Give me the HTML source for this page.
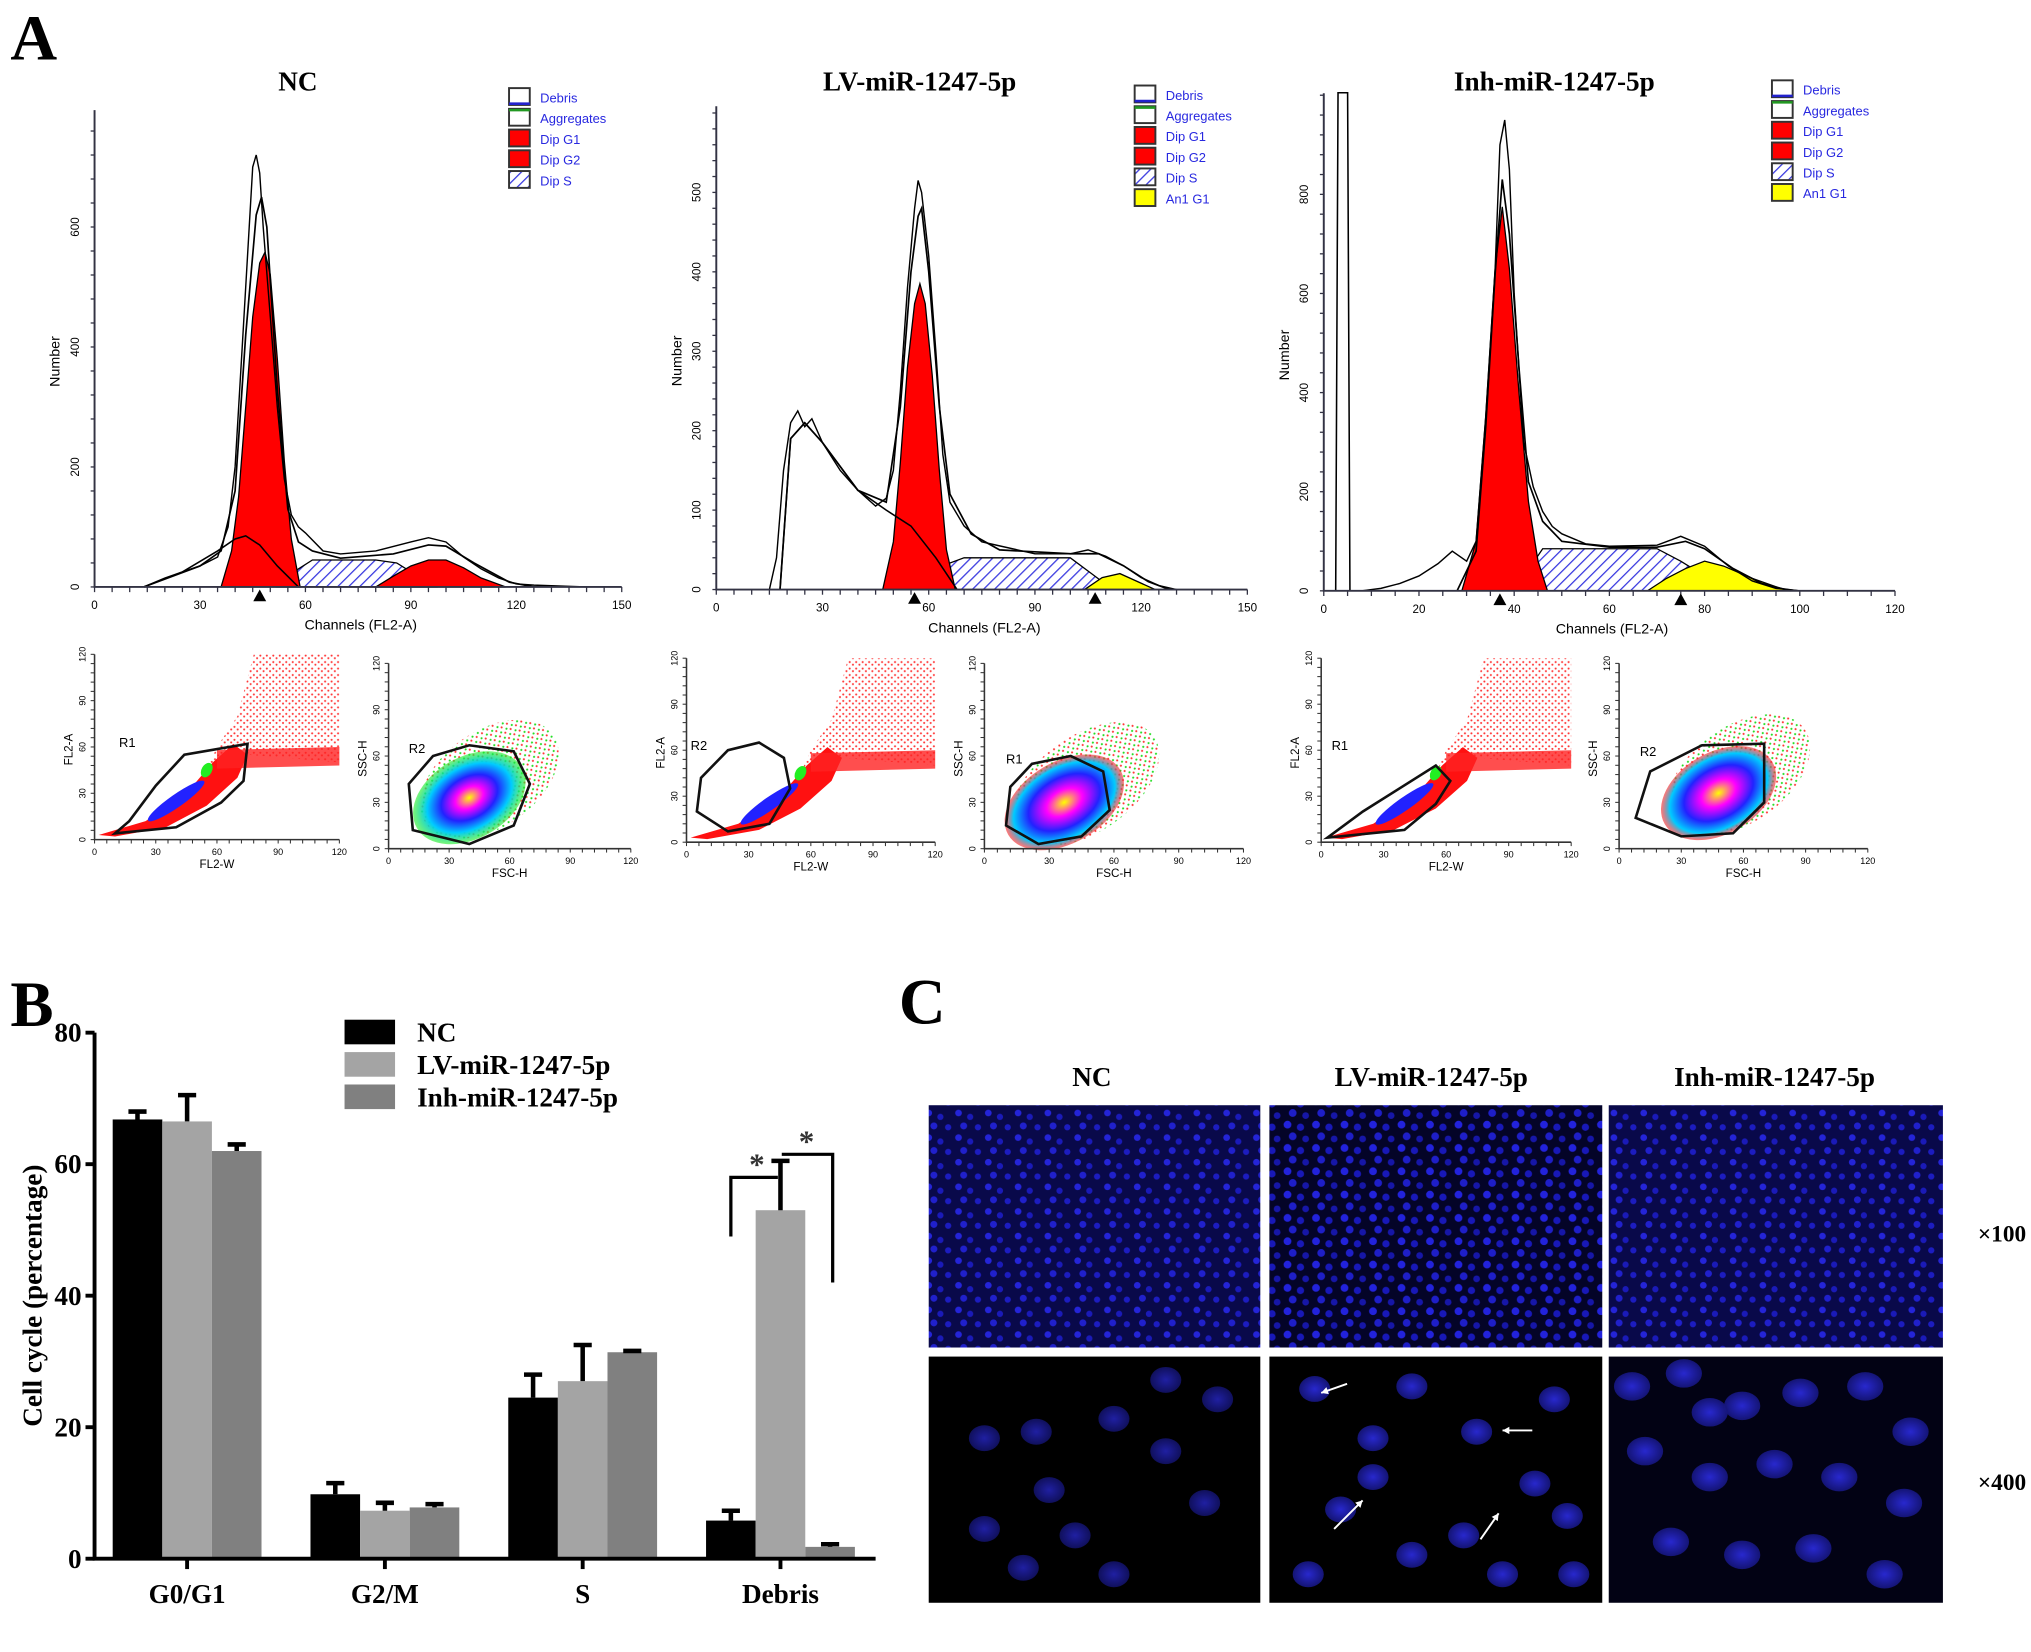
<!DOCTYPE html>
<html><head><meta charset="utf-8"><style>
html,body{margin:0;padding:0;background:#fff;}
svg{display:block;}
.serif{font-family:"Liberation Serif",serif;font-weight:bold;}
.sans{font-family:"Liberation Sans",sans-serif;}
</style></head>
<body>
<svg id="fig" xmlns="http://www.w3.org/2000/svg" width="2031" height="1652" viewBox="0 0 1568 1275" preserveAspectRatio="none">
<defs>
<pattern id="hatchBlue" width="6" height="6" patternUnits="userSpaceOnUse" patternTransform="rotate(45)"><rect width="6" height="6" fill="#fff"/><line x1="0" y1="0" x2="0" y2="6" stroke="#3a3ae0" stroke-width="2"/></pattern>
<pattern id="speckRed" width="5" height="5" patternUnits="userSpaceOnUse"><circle cx="1" cy="1" r="0.8" fill="#f22"/><circle cx="3.5" cy="3" r="0.8" fill="#f22"/></pattern>
<pattern id="speckGreen" width="5" height="5" patternUnits="userSpaceOnUse"><circle cx="1" cy="2" r="0.8" fill="#2d2"/><circle cx="3.5" cy="4" r="0.8" fill="#f33"/></pattern>
<pattern id="nucSmall" width="23" height="19" patternUnits="userSpaceOnUse"><rect width="23" height="19" fill="#09094a"/><circle cx="4" cy="4" r="2.6" fill="#2424d8"/><circle cx="13" cy="7" r="2.4" fill="#1a1ab8"/><circle cx="8" cy="14" r="2.7" fill="#2020cc"/><circle cx="19" cy="15" r="2.4" fill="#1c1cc0"/></pattern>
<pattern id="nucSmall2" width="22" height="18" patternUnits="userSpaceOnUse"><rect width="22" height="18" fill="#040428"/><circle cx="4" cy="4" r="3" fill="#2222dc"/><circle cx="14" cy="6" r="2.8" fill="#1818b8"/><circle cx="8" cy="13" r="3" fill="#1e1ec8"/><circle cx="18" cy="15" r="2.6" fill="#1616a8"/></pattern>
<radialGradient id="cloudA"><stop offset="0" stop-color="#ff0"/><stop offset="0.25" stop-color="#f0f"/><stop offset="0.5" stop-color="#22f"/><stop offset="0.75" stop-color="#0cf"/><stop offset="1" stop-color="#2e2" stop-opacity="0.6"/></radialGradient>
<radialGradient id="cloudB"><stop offset="0" stop-color="#ff0"/><stop offset="0.3" stop-color="#f0f"/><stop offset="0.6" stop-color="#22f"/><stop offset="0.85" stop-color="#0cf"/><stop offset="1" stop-color="#f22" stop-opacity="0.6"/></radialGradient>
<radialGradient id="nucG"><stop offset="0" stop-color="#2a2ad8"/><stop offset="1" stop-color="#15157a"/></radialGradient>
</defs>
<g id="root"></g>
</svg>
<script>
// ---------- Bar chart data (panel B) ----------
const barCategories = ["G0/G1", "G2/M", "S", "Debris"];
const barSeriesNames = ["NC", "LV-miR-1247-5p", "Inh-miR-1247-5p"];
const ncValues = [66.8, 9.8, 24.5, 5.8];
const lvValues = [66.5, 7.3, 27.0, 53.0];
const inhValues = [62.0, 7.8, 31.4, 1.8];
const ncErrors = [1.2, 1.7, 3.5, 1.5];
const lvErrors = [4.0, 1.2, 5.5, 7.5];
const inhErrors = [1.0, 0.5, 0.2, 0.4];
const yTicks = [0, 20, 40, 60, 80];

// ---------- Histogram data (panel A) ----------
const ncEnvCh = [14,20,25,30,35,38,40,42,44,45,46,47,48,50,52,54,56,58,60,65,70,80,90,95,100,105,110,115,120,125,140];
const ncEnvCt = [0,15,25,35,50,100,200,400,600,700,720,690,600,450,300,180,120,100,90,60,55,60,75,82,75,50,30,15,5,3,0];
const ncModCh = [14,30,36,40,43,46,47.5,49,52,55,58,62,70,85,95,100,108,118,125];
const ncModCt = [0,35,60,160,420,620,650,600,330,130,75,60,48,55,70,68,40,8,0];
const ncG1Ch = [36,39,41,43,45,47,48.5,50,52,54,56,58.5];
const ncG1Ct = [0,60,150,300,450,540,558,520,380,210,80,0];
const ncG2Ch = [80,85,90,95,100,105,110,117];
const ncG2Ct = [0,18,35,45,45,32,15,0];
const ncSCh = [52,58,62,80,86,92,97];
const ncSCt = [0,30,45,45,40,18,0];
const ncDebCh = [14,25,35,40,43,47,52,58];
const ncDebCt = [0,25,60,80,85,70,35,0];

const lvEnvCh = [15,17,19,21,23,25,27,30,35,40,45,48,50,52,54,56,57,58,60,62,64,66,70,75,80,90,100,105,110,115,120,125,130];
const lvEnvCt = [0,40,150,210,225,205,215,185,150,125,105,115,150,250,380,480,515,500,420,300,170,110,80,60,55,45,45,50,42,30,15,5,0];
const lvModCh = [18,21,25,30,40,48,52,55,57,58,60,63,66,72,80,100,108,115,122,128];
const lvModCt = [0,190,210,185,125,110,230,400,470,480,400,230,120,70,50,45,45,30,10,0];
const lvG1Ch = [47,50,52,54,56,57.5,59,61,63,65,67.5];
const lvG1Ct = [0,60,160,280,360,385,360,270,150,50,0];
const lvSCh = [58,64,70,100,106,112];
const lvSCt = [0,30,40,40,20,0];
const lvAnCh = [104,109,114,119,124];
const lvAnCt = [0,15,20,10,0];
const lvDebCh = [18,21,25,30,40,48,55,62,68];
const lvDebCt = [0,190,210,185,125,100,80,40,0];

const inhEnvCh = [8,12,16,20,24,27,30,32,34,36,37,38,39,40,42,44,46,48,50,55,60,70,75,80,85,90,95,100];
const inhEnvCt = [0,5,15,30,55,80,60,100,350,650,900,950,850,600,300,210,160,130,115,95,90,92,110,90,50,20,5,0];
const inhModCh = [28,32,34,36,37.5,39,41,43,46,50,60,70,76,80,86,92,98];
const inhModCt = [0,80,330,640,830,720,450,220,140,100,88,88,100,85,45,15,0];
const inhG1Ch = [29,32,34,36,37.5,39,41,43,45,47];
const inhG1Ct = [0,100,350,650,775,650,400,180,60,0];
const inhSCh = [40,46,70,75,80,86];
const inhSCt = [0,85,85,60,30,0];
const inhAnCh = [68,72,76,80,84,90,96,100];
const inhAnCt = [0,25,45,60,50,25,5,0];
const inhSpikeCh = [2.5,3,5,5.5];
const inhSpikeCt = [0,1005,1005,0];

const NS = "http://www.w3.org/2000/svg";
const root = document.getElementById("root");
function mk(tag, attrs, parent) {
  const el = document.createElementNS(NS, tag);
  for (const k in attrs) el.setAttribute(k, attrs[k]);
  (parent || root).appendChild(el);
  return el;
}
function txt(str, x, y, size, cls, parent, anchor, fill) {
  const t = mk("text", {x: x, y: y, "font-size": size, "class": cls, "text-anchor": anchor || "middle", fill: fill || "#000"}, parent);
  t.textContent = str;
  return t;
}

// ---------- Panel letters ----------
let el;
el = txt("A", 8, 46, 50, "serif", root, "start");


el = txt("B", 8, 792, 50, "serif", root, "start");


el = txt("C", 694, 790, 50, "serif", root, "start");



// ---------- Histograms ----------
const hists = [
  {name:"nc", title:"NC", tx:230, x0:73, x1:480, chMax:150, y0:453, yTop:85, ppu:0.463, tickStep:200, minor:40, yMaxTick:600,
   xt:[0,30,60,90,120,150], env:[ncEnvCh,ncEnvCt], mod:[ncModCh,ncModCt], g1:[ncG1Ch,ncG1Ct], g2:[ncG2Ch,ncG2Ct], s:[ncSCh,ncSCt], deb:[ncDebCh,ncDebCt], an:null, spike:null,
   markers:[47], legX:393, legY:68, leg:["Debris","Aggregates","Dip G1","Dip G2","Dip S"]},
  {name:"lv", title:"LV-miR-1247-5p", tx:710, x0:553, x1:963, chMax:150, y0:455, yTop:82, ppu:0.613, tickStep:100, minor:20, yMaxTick:500,
   xt:[0,30,60,90,120,150], env:[lvEnvCh,lvEnvCt], mod:[lvModCh,lvModCt], g1:[lvG1Ch,lvG1Ct], g2:null, s:[lvSCh,lvSCt], deb:[lvDebCh,lvDebCt], an:[lvAnCh,lvAnCt], spike:null,
   markers:[56,107], legX:876, legY:66, leg:["Debris","Aggregates","Dip G1","Dip G2","Dip S","An1 G1"]},
  {name:"inh", title:"Inh-miR-1247-5p", tx:1200, x0:1022, x1:1463, chMax:120, y0:456, yTop:72, ppu:0.3825, tickStep:200, minor:40, yMaxTick:800,
   xt:[0,20,40,60,80,100,120], env:[inhEnvCh,inhEnvCt], mod:[inhModCh,inhModCt], g1:[inhG1Ch,inhG1Ct], g2:null, s:[inhSCh,inhSCt], deb:null, an:[inhAnCh,inhAnCt], spike:[inhSpikeCh,inhSpikeCt],
   markers:[37,75], legX:1368, legY:62, leg:["Debris","Aggregates","Dip G1","Dip G2","Dip S","An1 G1"]}
];
const legFill = {"Debris":"#fff","Aggregates":"#fff","Dip G1":"#f00","Dip G2":"#f00","Dip S":"url(#hatchBlue)","An1 G1":"#ff0"};

hists.forEach(h => {
  const g = mk("g", {});
  
  
  const sx = ch => h.x0 + ch / h.chMax * (h.x1 - h.x0);
  const sy = v => h.y0 - v * h.ppu;
  const pathOf = (arr, close) => {
    let d = "";
    arr[0].forEach((c, i) => { d += (i ? "L" : "M") + sx(c).toFixed(1) + "," + sy(arr[1][i]).toFixed(1); });
    return d + (close ? "Z" : "");
  };
  let t = txt(h.title, h.tx, 70, 21, "serif", g);
  
  
  if (h.s) { const p = mk("path", {d: pathOf(h.s, true), fill: "url(#hatchBlue)", stroke: "#000", "stroke-width": 1}, g);
      }
  if (h.an) { const p = mk("path", {d: pathOf(h.an, true), fill: "#ff0", stroke: "#000", "stroke-width": 1}, g);
      }
  if (h.g2) { const p = mk("path", {d: pathOf(h.g2, true), fill: "#f00", stroke: "#000", "stroke-width": 1}, g);
      }
  const pg1 = mk("path", {d: pathOf(h.g1, true), fill: "#f00", stroke: "#000", "stroke-width": 1}, g);
  
  
  if (h.deb) { const p = mk("path", {d: pathOf(h.deb, false), fill: "none", stroke: "#000", "stroke-width": 1.2}, g);
      }
  if (h.spike) { const p = mk("path", {d: pathOf(h.spike, false), fill: "#fff", stroke: "#000", "stroke-width": 1.2}, g);
      }
  const pm = mk("path", {d: pathOf(h.mod, false), fill: "none", stroke: "#000", "stroke-width": 1.3}, g);
  
  
  const pe = mk("path", {d: pathOf(h.env, false), fill: "none", stroke: "#000", "stroke-width": 1.1}, g);
  
  
  const ax = mk("path", {d: `M${h.x0},${h.yTop}V${h.y0}H${h.x1}`, fill: "none", stroke: "#334", "stroke-width": 1.5}, g);
  
  
  for (let v = 0; sy(v) >= h.yTop; v += h.minor) {
    mk("line", {x1: h.x0 - 3, x2: h.x0, y1: sy(v), y2: sy(v), stroke: "#334", "stroke-width": 1}, g);
  }
  for (let v = 0; v <= h.yMaxTick; v += h.tickStep) {
    const lt = mk("text", {x: 0, y: 0, "font-size": 9, "class": "sans", "text-anchor": "middle", transform: `translate(${h.x0 - 12},${sy(v)}) rotate(-90)`}, g);
    lt.textContent = v;
    
    
  }
  for (let c = 0; c <= h.chMax; c += 5) mk("line", {x1: sx(c), x2: sx(c), y1: h.y0, y2: h.y0 + 4, stroke: "#334", "stroke-width": 1}, g);
  h.xt.forEach(c => {
    const lt = txt(String(c), sx(c), h.y0 + 17, 9, "sans", g);
    
    
  });
  const xl = txt("Channels (FL2-A)", (h.x0 + h.x1) / 2 + 2, h.y0 + 33, 11, "sans", g);
  
  
  const yl = mk("text", {x: 0, y: 0, "font-size": 11, "class": "sans", "text-anchor": "middle", transform: `translate(${h.x0 - 27},${(h.y0 + h.yTop) / 2 + 10}) rotate(-90)`}, g);
  yl.textContent = "Number";
  
  
  h.markers.forEach(c => {
    const m = mk("path", {d: `M${sx(c) - 5},${h.y0 + 11}L${sx(c)},${h.y0 + 2}L${sx(c) + 5},${h.y0 + 11}Z`, fill: "#000"}, g);
    
    
  });
  h.leg.forEach((name, i) => {
    const yy = h.legY + i * 16;
    const sw = mk("rect", {x: h.legX, y: yy, width: 16, height: 13, fill: legFill[name], stroke: "#333", "stroke-width": 1.5}, g);
    
    
    if (name === "Debris") mk("line", {x1: h.legX, x2: h.legX + 16, y1: yy + 12, y2: yy + 12, stroke: "#22c", "stroke-width": 2}, g);
    if (name === "Aggregates") mk("line", {x1: h.legX, x2: h.legX + 16, y1: yy + 1, y2: yy + 1, stroke: "#292", "stroke-width": 2}, g);
    const lt = txt(name, h.legX + 24, yy + 11, 10, "sans", g, "start", "#2828e0");
    
    
  });
});

// ---------- Dot plots ----------
const dotPlots = [
  {name:"nc-fl2", x0:73, x1:262, y0:648, y1:505, xl:"FL2-W", yl:"FL2-A", gate:"R1", type:"fl2", gp:[[10,4],[17,12],[30,35],[44,55],[75,62],[73,38],[62,24],[40,8]], gl:[12,60]},
  {name:"nc-ssc", x0:300, x1:487, y0:655, y1:512, xl:"FSC-H", yl:"SSC-H", gate:"R2", type:"ssc", gp:[[12,12],[10,42],[22,60],[40,67],[62,63],[70,42],[62,15],[40,3]], gl:[10,62], c:[40,33], g:"cloudA"},
  {name:"lv-fl2", x0:530, x1:722, y0:650, y1:508, xl:"FL2-W", yl:"FL2-A", gate:"R2", type:"fl2b", gp:[[5,20],[7,42],[20,60],[35,65],[47,55],[50,35],[40,12],[20,7]], gl:[2,60]},
  {name:"lv-ssc", x0:760, x1:960, y0:655, y1:512, xl:"FSC-H", yl:"SSC-H", gate:"R1", type:"ssc", gp:[[10,15],[12,40],[22,55],[40,60],[55,50],[58,25],[45,8],[25,3]], gl:[10,55], c:[37,30], g:"cloudB"},
  {name:"inh-fl2", x0:1020, x1:1213, y0:650, y1:508, xl:"FL2-W", yl:"FL2-A", gate:"R1", type:"fl2", gp:[[3,3],[20,20],[55,50],[62,40],[55,25],[40,8]], gl:[5,60]},
  {name:"inh-ssc", x0:1250, x1:1442, y0:655, y1:512, xl:"FSC-H", yl:"SSC-H", gate:"R2", type:"ssc", gp:[[8,20],[15,50],[40,67],[70,68],[70,30],[55,10],[30,8]], gl:[10,60], c:[48,36], g:"cloudB"}
];
dotPlots.forEach(dp => {
  const g = mk("g", {});
  
  
  const sx = v => dp.x0 + v / 120 * (dp.x1 - dp.x0);
  const sy = v => dp.y0 - v / 120 * (dp.y0 - dp.y1);
  const poly = pts => pts.map(p => sx(p[0]).toFixed(1) + "," + sy(p[1]).toFixed(1)).join(" ");
  if (dp.type === "fl2" || dp.type === "fl2b") {
    mk("polygon", {points: poly([[55,45],[75,55],[120,50],[120,120],[78,120],[70,80],[60,60]]), fill: "url(#speckRed)", opacity: 0.9}, g);
    mk("polygon", {points: poly([[2,3],[25,12],[45,30],[58,50],[68,62],[75,55],[70,40],[55,22],[35,8],[10,2]]), fill: "#f11"}, g);
    mk("polygon", {points: poly([[60,46],[120,48],[120,60],[60,58]]), fill: "#f22", opacity: 0.8}, g);
    mk("ellipse", {cx: sx(40), cy: sy(25), rx: (dp.x1 - dp.x0) * 0.14, ry: 5, fill: "#22f", transform: `rotate(-35 ${sx(40)} ${sy(25)})`}, g);
    mk("ellipse", {cx: sx(55), cy: sy(45), rx: 6, ry: 4, fill: "#2e2", transform: `rotate(-60 ${sx(55)} ${sy(45)})`}, g);
  } else {
    mk("ellipse", {cx: sx(dp.c[0] + 10), cy: sy(dp.c[1] + 12), rx: (dp.x1 - dp.x0) * 0.32, ry: (dp.y0 - dp.y1) * 0.26, fill: "url(#speckGreen)", transform: `rotate(-35 ${sx(dp.c[0] + 10)} ${sy(dp.c[1] + 12)})`}, g);
    mk("ellipse", {cx: sx(dp.c[0]), cy: sy(dp.c[1]), rx: (dp.x1 - dp.x0) * 0.25, ry: (dp.y0 - dp.y1) * 0.22, fill: "url(#" + dp.g + ")", transform: `rotate(-30 ${sx(dp.c[0])} ${sy(dp.c[1])})`}, g);
  }
  const gate = mk("polygon", {points: poly(dp.gp), fill: "none", stroke: "#111", "stroke-width": 2}, g);
  
  
  const gl = txt(dp.gate, sx(dp.gl[0]), sy(dp.gl[1]), 10, "sans", g, "start");
  
  
  mk("path", {d: `M${dp.x0},${dp.y1}V${dp.y0}H${dp.x1}`, fill: "none", stroke: "#333", "stroke-width": 1.2}, g);
  for (let v = 0; v <= 120; v += 6) {
    mk("line", {x1: sx(v), x2: sx(v), y1: dp.y0, y2: dp.y0 + 3, stroke: "#333", "stroke-width": 0.8}, g);
    mk("line", {x1: dp.x0 - 3, x2: dp.x0, y1: sy(v), y2: sy(v), stroke: "#333", "stroke-width": 0.8}, g);
  }
  [0,30,60,90,120].forEach(v => {
    txt(String(v), sx(v), dp.y0 + 12, 7, "sans", g);
    const ty = mk("text", {x: 0, y: 0, "font-size": 7, "class": "sans", "text-anchor": "middle", transform: `translate(${dp.x0 - 7},${sy(v)}) rotate(-90)`}, g);
    ty.textContent = v;
  });
  const xt = txt(dp.xl, (dp.x0 + dp.x1) / 2, dp.y0 + 22, 9, "sans", g);
  
  
  const yt = mk("text", {x: 0, y: 0, "font-size": 9, "class": "sans", "text-anchor": "middle", transform: `translate(${dp.x0 - 17},${(dp.y0 + dp.y1) / 2 + 2}) rotate(-90)`}, g);
  yt.textContent = dp.yl;
  
  
});

// ---------- Bar chart (panel B) ----------
const B = {x0: 73, x1: 676, y0: 1203, yTop: 797, vmax: 80, gStart: 87, gStep: 152.7, bw: 38.3};
const by = v => B.y0 - v / B.vmax * (B.y0 - B.yTop);
const bx = (gi, si) => B.gStart + gi * B.gStep + si * B.bw;
const bg = mk("g", {});


const seriesVals = [ncValues, lvValues, inhValues];
const seriesErr = [ncErrors, lvErrors, inhErrors];
const seriesCol = ["#000", "#a4a4a4", "#808080"];
seriesVals.forEach((vals, si) => {
  vals.forEach((v, gi) => {
    const r = mk("rect", {x: bx(gi, si), y: by(v), width: B.bw, height: B.y0 - by(v), fill: seriesCol[si]}, bg);
    
    
    const cx = bx(gi, si) + B.bw / 2;
    const top = by(v + seriesErr[si][gi]);
    const e = mk("path", {d: `M${cx},${by(v)}V${top}M${cx - 7},${top}H${cx + 7}`, stroke: "#000", "stroke-width": 3.5, fill: "none"}, bg);
    
    
  });
});
const bax = mk("path", {d: `M${B.x0},${B.yTop}V${B.y0}H${B.x1}`, fill: "none", stroke: "#000", "stroke-width": 3}, bg);


yTicks.forEach(v => {
  mk("line", {x1: B.x0 - 7, x2: B.x0, y1: by(v), y2: by(v), stroke: "#000", "stroke-width": 3}, bg);
  const t = txt(String(v), B.x0 - 10, by(v) + 7, 21, "serif", bg, "end");
  
  
});
barCategories.forEach((c, gi) => {
  const cx = bx(gi, 1) + B.bw / 2;
  mk("line", {x1: cx, x2: cx, y1: B.y0, y2: B.y0 + 8, stroke: "#000", "stroke-width": 3}, bg);
  const t = txt(c, cx, B.y0 + 34, 21, "serif", bg);
  
  
});
const byl = mk("text", {x: 0, y: 0, "font-size": 21, "class": "serif", "text-anchor": "middle", transform: `translate(32,${(B.y0 + B.yTop) / 2}) rotate(-90)`}, bg);
byl.textContent = "Cell cycle (percentage)";


barSeriesNames.forEach((n, si) => {
  const yy = 787 + si * 25;
  const sw = mk("rect", {x: 266, y: yy, width: 39, height: 19, fill: seriesCol[si]}, bg);
  
  
  const t = txt(n, 322, yy + 17, 21, "serif", bg, "start");
  
  
});
const dNC = bx(3, 0) + B.bw / 2, dLV = bx(3, 1) + B.bw / 2, dInh = bx(3, 2) + B.bw / 2;
const br1 = mk("path", {d: `M${dNC},${by(49)}V${by(58)}H${dLV - 2}`, fill: "none", stroke: "#000", "stroke-width": 2.5}, bg);


const br2 = mk("path", {d: `M${dLV + 1},${by(61.5)}H${dInh + 2}V${by(42)}`, fill: "none", stroke: "#000", "stroke-width": 2.5}, bg);


let st = txt("*", (dNC + dLV) / 2 + 1, by(58) - 2, 24, "serif", bg, "middle", "#333");


st = txt("*", (dLV + dInh) / 2 + 1, by(61.5) - 2, 24, "serif", bg, "middle", "#333");



// ---------- Panel C (fluorescence) ----------
const cg = mk("g", {});


const cols = [[717, 973, "NC", 843], [980, 1237, "LV-miR-1247-5p", 1105], [1242, 1500, "Inh-miR-1247-5p", 1370]];
cols.forEach((c, i) => {
  const t = txt(c[2], c[3], 838, 21, "serif", cg);
  
  
  const r1 = mk("rect", {x: c[0], y: 853, width: c[1] - c[0], height: 187, fill: i === 1 ? "url(#nucSmall2)" : "url(#nucSmall)"}, cg);
  
  
  const r2 = mk("rect", {x: c[0], y: 1047, width: c[1] - c[0], height: 190, fill: i === 2 ? "#020214" : "#000"}, cg);
  
  
});
const nuclei = [
  [[760,1110],[800,1105],[810,1150],[860,1095],[900,1120],[930,1160],[760,1180],[830,1185],[860,1215],[940,1080],[790,1210],[900,1065]],
  [[1015,1072],[1060,1110],[1090,1070],[1140,1105],[1185,1145],[1035,1165],[1090,1200],[1130,1185],[1210,1170],[1200,1080],[1060,1140],[1010,1215],[1160,1215],[1215,1215]],
  [[1260,1070],[1300,1060],[1345,1085],[1390,1075],[1440,1070],[1475,1105],[1270,1120],[1320,1140],[1370,1130],[1420,1140],[1470,1160],[1290,1190],[1345,1200],[1400,1195],[1455,1215],[1320,1090]]
];
nuclei.forEach((arr, i) => arr.forEach(p => {
  const n = mk("ellipse", {cx: p[0], cy: p[1], rx: i === 2 ? 14 : 12, ry: i === 2 ? 11 : 10, fill: "url(#nucG)", opacity: i === 0 ? 0.75 : 0.95}, cg);
  
  
}));
[[1040,1068,1020,1075],[1183,1104,1160,1104],[1030,1180,1052,1158],[1143,1188,1157,1168]].forEach(a => {
  const ar = mk("line", {x1: a[0], y1: a[1], x2: a[2], y2: a[3], stroke: "#fff", "stroke-width": 1.5}, cg);
  
  
  const ang = Math.atan2(a[3] - a[1], a[2] - a[0]);
  const hx = a[2], hy = a[3];
  mk("path", {d: `M${hx},${hy}L${hx - 6 * Math.cos(ang - 0.5)},${hy - 6 * Math.sin(ang - 0.5)}L${hx - 6 * Math.cos(ang + 0.5)},${hy - 6 * Math.sin(ang + 0.5)}Z`, fill: "#fff"}, cg);
});
let mg = txt("×100", 1527, 958, 18, "serif", cg, "start");


mg = txt("×400", 1527, 1150, 18, "serif", cg, "start");


</script>
</body></html>
